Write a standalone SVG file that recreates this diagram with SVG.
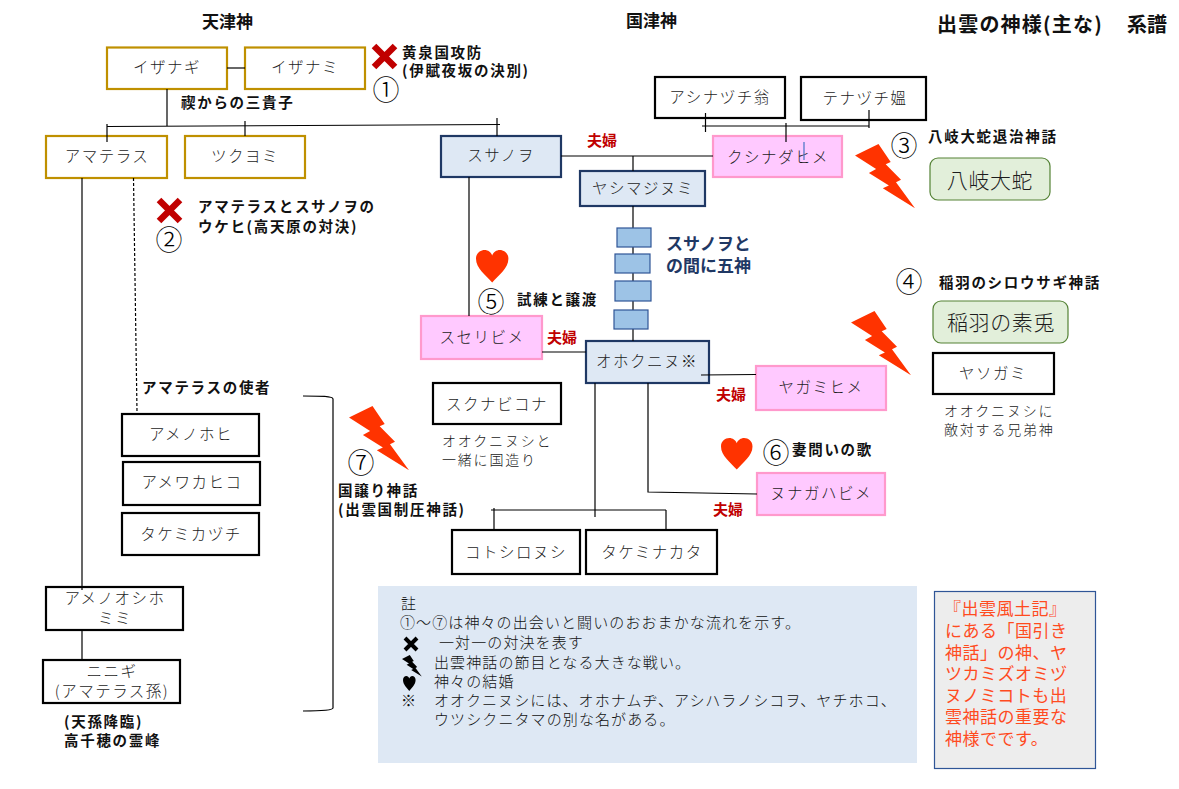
<svg xmlns="http://www.w3.org/2000/svg" width="1179" height="789" viewBox="0 0 1179 789">
<style>
text{font-family:"Noto Sans CJK JP","Noto Sans",sans-serif;fill:#404040}
.n{font-size:15.5px;font-weight:300;fill:#1c1c1c;letter-spacing:1.5px;text-anchor:middle;dominant-baseline:central}
.b{font-size:14.5px;font-weight:700;fill:#111;letter-spacing:1.7px}
.t{font-size:17px;font-weight:700;fill:#111}
.f{font-size:15px;font-weight:700;fill:#c00000}
.c{font-size:27px;font-weight:300;fill:#000;text-anchor:middle;dominant-baseline:central}
.l{font-size:15px;font-weight:300;fill:#111;letter-spacing:1.1px}
.d{font-size:14px;font-weight:300;fill:#222;letter-spacing:1.8px}
.g{fill:#fff;stroke:#bf9000;stroke-width:2.2}
.k{fill:#fff;stroke:#000;stroke-width:2.2}
.s{fill:#dee8f4;stroke:#1f3864;stroke-width:2.2}
.p{fill:#ffc9ff;stroke:#ff99cc;stroke-width:2.2}
.m{fill:#9dc3e6;stroke:#2f5597;stroke-width:1.2}
.o{fill:#e2efda;stroke:#548235;stroke-width:1.2}
.w{font-size:21px;font-weight:300;fill:#1c1c1c;letter-spacing:.6px;text-anchor:middle;dominant-baseline:central}
.h{font-size:17px;font-weight:700;fill:#1f3864}
.big{font-size:20px;font-weight:700;fill:#111}
#conn path{fill:none;stroke:#000;stroke-width:1.2}
.x{stroke:#c00000;stroke-width:6.5;fill:none}
.red{fill:#ff3300}
.r{font-size:17px;font-weight:400;fill:#ff4b1f;letter-spacing:.5px}
</style>
<defs>
<polygon id="bolt" points="23.5,0 35.7,16.9 30.7,18.9 46.0,33.4 41.0,35.8 60,60 27.8,41.4 33.9,38.9 13.9,27 21.1,23.3 0,10.8"/>
<path id="heart" d="M15,30 C9,23 0,17 0,8 C0,3 4,0 8,0 C11,0 14,2 15,5 C16,2 19,0 22,0 C26,0 30,3 30,8 C30,17 21,23 15,30 Z"/>
</defs>
<rect width="1179" height="789" fill="#fff"/>
<g id="n-izanagi"><rect class="g" x="107" y="47.500" width="120" height="41.500"/><text class="n" x="167" y="66">イザナギ</text></g>
<g id="n-izanami"><rect class="g" x="245" y="47.500" width="120" height="41.500"/><text class="n" x="305" y="66">イザナミ</text></g>
<g id="n-amaterasu"><rect class="g" x="46" y="136" width="121" height="42"/><text class="n" x="107" y="155">アマテラス</text></g>
<g id="n-tsukuyomi"><rect class="g" x="185" y="136" width="120" height="42"/><text class="n" x="245" y="155">ツクヨミ</text></g>
<g id="n-susanoo"><rect class="s" x="441" y="136" width="120" height="41"/><text class="n" x="501" y="154">スサノヲ</text></g>
<g id="n-yashima"><rect class="s" x="580" y="171" width="125" height="35"/><text class="n" x="643" y="187">ヤシマジヌミ</text></g>
<g id="n-ashinazuchi"><rect class="k" x="655" y="77" width="130" height="41"/><text class="n" x="720" y="96">アシナヅチ翁</text></g>
<g id="n-tenazuchi"><rect class="k" x="801" y="77" width="125" height="43"/><text class="n" x="865" y="97">テナヅチ媼</text></g>
<g id="n-kushinada"><rect class="p" x="713" y="136" width="129" height="41"/><text class="n" x="778" y="156">クシナダヒメ</text><path d="M804,142V160" stroke="#4472c4" stroke-width="1.2"/></g>
<g id="n-orochi"><rect class="o" x="930" y="158" width="120" height="42" rx="8"/><text class="w" x="990" y="179">八岐大蛇</text></g>
<g id="n-usagi"><rect class="o" x="933" y="301" width="135" height="42" rx="8"/><text class="w" x="1001" y="321">稲羽の素兎</text></g>
<g id="n-yasogami"><rect class="k" x="933" y="353" width="121" height="41"/><text class="n" x="993" y="372">ヤソガミ</text></g>
<g id="n-suseri"><rect class="p" x="421" y="316" width="121" height="43"/><text class="n" x="482" y="336">スセリビメ</text></g>
<g id="n-okuni"><rect class="s" x="586" y="341" width="123" height="42"/><text class="n" x="647" y="360">オホクニヌ※</text></g>
<g id="n-yagami"><rect class="p" x="756" y="366" width="130" height="44"/><text class="n" x="821" y="386">ヤガミヒメ</text></g>
<g id="n-nunaga"><rect class="p" x="757" y="473" width="128" height="42"/><text class="n" x="821" y="492">ヌナガハビメ</text></g>
<g id="n-sukuna"><rect class="k" x="433" y="383" width="128" height="41"/><text class="n" x="497" y="403">スクナビコナ</text></g>
<g id="n-koto"><rect class="k" x="452" y="530" width="128" height="44"/><text class="n" x="516" y="551">コトシロヌシ</text></g>
<g id="n-takemina"><rect class="k" x="586" y="530" width="131" height="44"/><text class="n" x="652" y="551">タケミナカタ</text></g>
<g id="n-amenohohi"><rect class="k" x="122" y="414" width="137" height="42"/><text class="n" x="191" y="433">アメノホヒ</text></g>
<g id="n-amewaka"><rect class="k" x="123" y="462" width="137" height="43"/><text class="n" x="192" y="481">アメワカヒコ</text></g>
<g id="n-takemika"><rect class="k" x="122" y="513" width="137" height="42"/><text class="n" x="191" y="533">タケミカヅチ</text></g>
<g id="n-oshiho"><rect class="k" x="46" y="587" width="137" height="43"/><text class="n"><tspan x="115" y="597">アメノオシホ</tspan><tspan x="115" y="617">ミミ</tspan></text></g>
<g id="n-ninigi"><rect class="k" x="43" y="660" width="137" height="43"/><text class="n"><tspan x="112" y="670">ニニギ</tspan><tspan x="112" y="690">(アマテラス孫)</tspan></text></g>
<g id="conn">
<path d="M227,68H245"/>
<path d="M167,89V126"/>
<path d="M107,126.500L500,124.500"/>
<path d="M107,124V142"/>
<path d="M245,121V136"/>
<path d="M497,118V136"/>
<path d="M82,178V590"/>
<path d="M133.500,178L137,412" stroke-dasharray="3 2"/>
<path d="M82,630V660"/>
<path d="M561,156H713"/>
<path d="M633,156V171"/>
<path d="M633,206V341"/>
<path d="M469,177V316"/>
<path d="M542,352H586"/>
<path d="M701,375L756,374.500"/>
<path d="M648,383V492L757,494"/>
<path d="M595,383V517"/>
<path d="M491,510H666"/>
<path d="M494,508V530"/>
<path d="M666,510V530"/>
<path d="M702,126H869"/>
<path d="M705.500,113V132"/>
<path d="M869,110V128"/>
<path d="M786,123V142"/>
<path d="M303,396C320,396 333,396 333,399V708C333,710 320,711 303,711"/>
</g>
<g id="n-m1"><rect class="m" x="617" y="228" width="34" height="19"/></g>
<g id="n-m2"><rect class="m" x="615" y="254" width="35" height="19"/></g>
<g id="n-m3"><rect class="m" x="615" y="281" width="36" height="20"/></g>
<g id="n-m4"><rect class="m" x="614" y="310" width="34" height="19"/></g>

<text class="t" x="202" y="28">天津神</text>
<text class="t" x="626" y="27">国津神</text>
<text class="big" x="937" y="32" style="letter-spacing:1.2px">出雲の神様(主な)</text>
<text class="big" x="1127" y="32">系譜</text>
<text class="b"><tspan x="402" y="58">黄泉国攻防</tspan><tspan x="402" y="76">(伊賦夜坂の決別)</tspan></text>
<text class="b" x="181" y="108">禊からの三貴子</text>
<text class="b"><tspan x="198" y="212">アマテラスとスサノヲの</tspan><tspan x="198" y="232">ウケヒ(高天原の対決)</tspan></text>
<text class="b" x="928" y="142">八岐大蛇退治神話</text>
<text class="b" x="939" y="288">稲羽のシロウサギ神話</text>
<text class="b" x="517" y="305">試練と譲渡</text>
<text class="b" x="792" y="455">妻問いの歌</text>
<text class="b" x="142" y="393">アマテラスの使者</text>
<text class="b"><tspan x="338" y="496">国譲り神話</tspan><tspan x="338" y="515">(出雲国制圧神話)</tspan></text>
<text class="b"><tspan x="64" y="727">(天孫降臨)</tspan><tspan x="64" y="746">高千穂の霊峰</tspan></text>
<text class="h"><tspan x="666" y="250">スサノヲと</tspan><tspan x="666" y="272">の間に五神</tspan></text>
<text class="f" x="587" y="146">夫婦</text>
<text class="f" x="547" y="343">夫婦</text>
<text class="f" x="716" y="400">夫婦</text>
<text class="f" x="713" y="515">夫婦</text>
<text class="d"><tspan x="442" y="446">オオクニヌシと</tspan><tspan x="442" y="465">一緒に国造り</tspan></text>
<text class="d"><tspan x="944" y="416">オオクニヌシに</tspan><tspan x="944" y="435">敵対する兄弟神</tspan></text>
<text class="c" x="386" y="88">①</text>
<text class="c" x="169" y="238">②</text>
<text class="c" x="904" y="144">③</text>
<text class="c" x="909" y="280">④</text>
<text class="c" x="491" y="300">⑤</text>
<text class="c" x="776" y="451">⑥</text>
<text class="c" x="361" y="461">⑦</text>
<path class="x" d="M374,46L395,67M395,46L374,67"/>
<path class="x" d="M159,200L180,221M180,200L159,221"/>
<use href="#bolt" class="red" transform="translate(855,144) scale(1,1.07)"/>
<use href="#bolt" class="red" transform="translate(851,311) scale(1,1.07)"/>
<use href="#bolt" class="red" transform="translate(349,406) scale(1,1.07)"/>
<use href="#heart" class="red" transform="translate(476,250) scale(1.08)"/>
<use href="#heart" class="red" transform="translate(721,438) scale(1.05)"/>
<g id="legend">
<rect x="378" y="586" width="539" height="177" fill="#dee8f4"/>
<text class="l"><tspan x="401" y="609">註</tspan><tspan x="400" y="628">①～⑦は神々の出会いと闘いのおおまかな流れを示す。</tspan><tspan x="439" y="648">一対一の対決を表す</tspan><tspan x="434" y="668">出雲神話の節目となる大きな戦い。</tspan><tspan x="434" y="687">神々の結婚</tspan><tspan x="401" y="706">※</tspan><tspan x="434" y="706">オオクニヌシには、オホナムヂ、アシハラノシコヲ、ヤチホコ、</tspan><tspan x="434" y="725">ウツシクニタマの別な名がある。</tspan></text>
<path d="M405,638L417,650M417,638L405,650" stroke="#000" stroke-width="4"/>
<use href="#bolt" transform="translate(402,655) scale(.33,.36)"/>
<use href="#heart" transform="translate(403,676) scale(.42,.5)"/>
</g>
<g id="note">
<rect x="934.500" y="591.500" width="161" height="177" fill="#ededed" stroke="#2f5597" stroke-width="1.2"/>
<text class="r"><tspan x="944" y="615">『出雲風土記』</tspan><tspan x="945" y="637">にある「国引き</tspan><tspan x="945" y="659">神話」の神、ヤ</tspan><tspan x="945" y="680">ツカミズオミヅ</tspan><tspan x="945" y="702">ヌノミコトも出</tspan><tspan x="945" y="723">雲神話の重要な</tspan><tspan x="945" y="745">神様でです。</tspan></text>
</g>
</svg>
